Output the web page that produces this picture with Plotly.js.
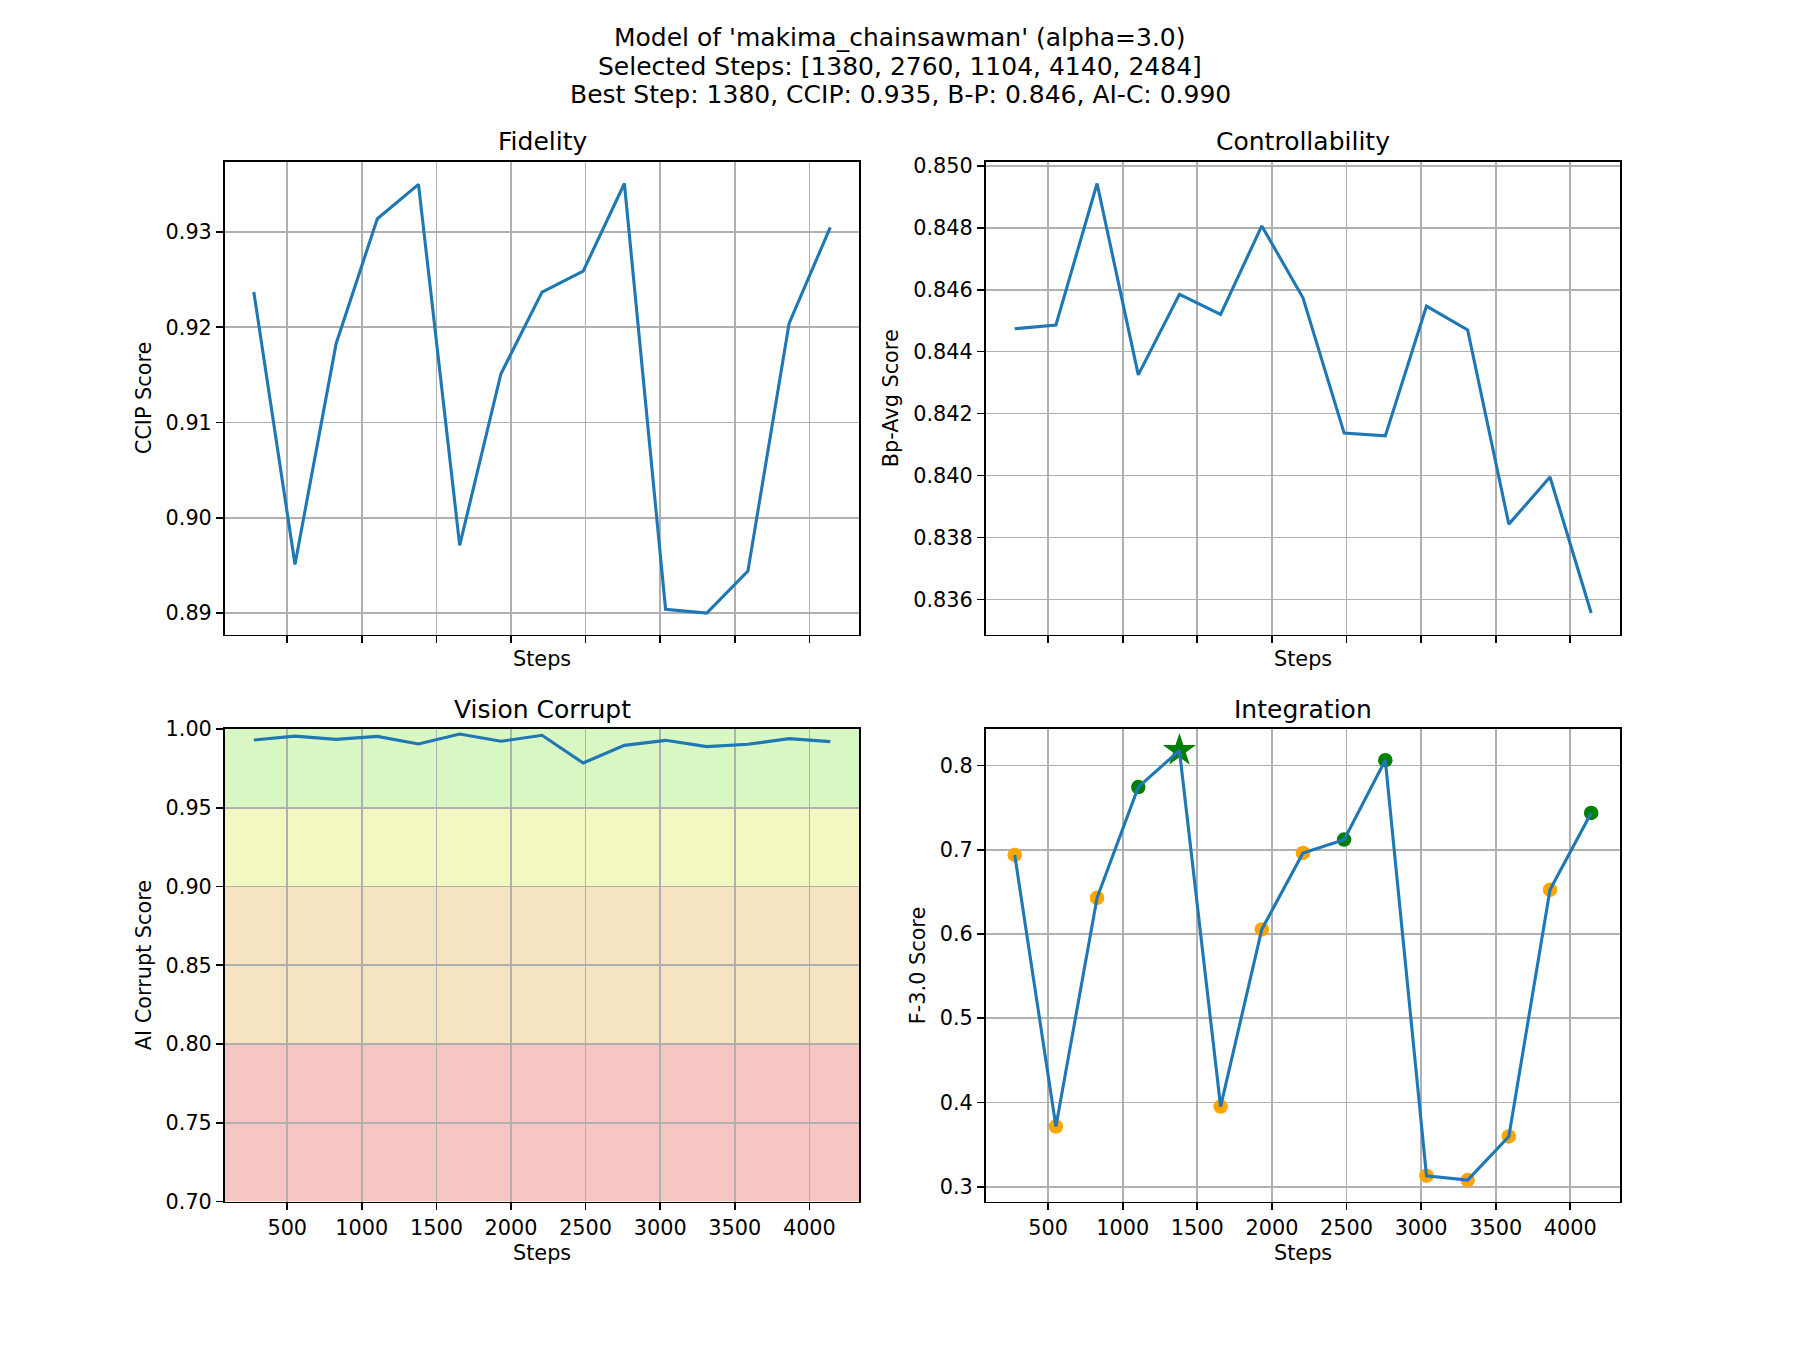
<!DOCTYPE html>
<html>
<head>
<meta charset="utf-8">
<script src="https://cdn.plot.ly/plotly-3.0.1.min.js"></script>
<style>html,body{margin:0;padding:0;background:#fff;}#chart{width:1800px;height:1350px;}</style>
</head>
<body>
<div id="chart"></div>
<script>
// ---- data ----
const steps = [276, 552, 828, 1104, 1380, 1656, 1932, 2208, 2484, 2760, 3036, 3312, 3588, 3864, 4140];
const ccip = [0.9237, 0.8951, 0.9183, 0.9314, 0.9350, 0.8971, 0.9151, 0.9237, 0.9259, 0.9351, 0.8904, 0.8900, 0.8944, 0.9204, 0.9305];
const bpAvg = [0.84474, 0.84486, 0.84943, 0.84325, 0.84585, 0.84520, 0.84806, 0.84574, 0.84137, 0.84128, 0.84547, 0.84470, 0.83843, 0.83995, 0.83556];
const aiCorrupt = [0.9930, 0.9955, 0.9934, 0.9953, 0.9905, 0.9968, 0.9922, 0.9960, 0.9784, 0.9896, 0.9928, 0.9888, 0.9903, 0.9939, 0.9920];
const f3Score = [0.6938, 0.3714, 0.6429, 0.7743, 0.8178, 0.3951, 0.6054, 0.6962, 0.7120, 0.8063, 0.3130, 0.3079, 0.3596, 0.6524, 0.7436];
const selectedSteps = [1380, 2760, 1104, 4140, 2484];
const bestStep = 1380;
const stepTicks = [500, 1000, 1500, 2000, 2500, 3000, 3500, 4000];
const bandEdges = [0.70, 0.80, 0.90, 0.95, 1.00];
const bandColors = ['#f6c6c2', '#f6e3c2', '#f3f7c1', '#d9f7c2'];
const titleLines = [
  "Model of 'makima_chainsawman' (alpha=3.0)",
  "Selected Steps: [1380, 2760, 1104, 4140, 2484]",
  "Best Step: 1380, CCIP: 0.935, B-P: 0.846, AI-C: 0.990"
];
const panelTitles = ['Fidelity', 'Controllability', 'Vision Corrupt', 'Integration'];
const yTitles = ['CCIP Score', 'Bp-Avg Score', 'AI Corrupt Score', 'F-3.0 Score'];

// ---- helpers ----
const W = 1800, H = 1350;
const FONT = 'DejaVu Sans';
const BLUE = '#1f77b4';
function padRange(arr) {
  const mn = Math.min(...arr), mx = Math.max(...arr);
  const p = 0.05 * (mx - mn);
  return [mn - p, mx + p];
}
const xRange = padRange(steps);

const xL = [0.125, 0.125 + 0.775 / 2.2];
const xR = [0.9 - 0.775 / 2.2, 0.9];
const yT = [0.88 - 0.77 / 2.2, 0.88];
const yB = [0.11, 0.11 + 0.77 / 2.2];

function xAxis(domain, anchor, showLabels) {
  return {
    domain: domain, anchor: anchor, range: xRange,
    tickmode: 'array', tickvals: stepTicks, ticktext: stepTicks.map(String),
    showticklabels: showLabels,
    ticks: 'outside', ticklen: 7.3, tickwidth: 1.67, tickcolor: '#000',
    showline: true, mirror: true, linecolor: '#000', linewidth: 1.67,
    showgrid: true, gridcolor: '#b0b0b0', gridwidth: 1.67,
    zeroline: false,
    tickfont: {family: FONT, size: 20.8, color: '#000'}
  };
}
function yAxis(domain, anchor, range, dtick, fmt) {
  return {
    domain: domain, anchor: anchor, range: range,
    tickmode: 'linear', tick0: 0, dtick: dtick, tickformat: fmt,
    ticks: 'outside', ticklen: 7.3, tickwidth: 1.67, tickcolor: '#000',
    showline: true, mirror: true, linecolor: '#000', linewidth: 1.67,
    showgrid: true, gridcolor: '#b0b0b0', gridwidth: 1.67,
    zeroline: false,
    tickfont: {family: FONT, size: 20.8, color: '#000'}
  };
}

const circleIdx = steps.map((s, i) => i).filter(i => steps[i] !== bestStep);
const bestIdx = steps.indexOf(bestStep);

const traces = [
  {x: steps, y: ccip, xaxis: 'x', yaxis: 'y', mode: 'lines', line: {color: BLUE, width: 3.1}},
  {x: steps, y: bpAvg, xaxis: 'x2', yaxis: 'y2', mode: 'lines', line: {color: BLUE, width: 3.1}},
  {x: steps, y: aiCorrupt, xaxis: 'x3', yaxis: 'y3', mode: 'lines', line: {color: BLUE, width: 3.1}},
  {x: circleIdx.map(i => steps[i]), y: circleIdx.map(i => f3Score[i]), xaxis: 'x4', yaxis: 'y4', mode: 'markers',
   marker: {size: 14.5, color: circleIdx.map(i => selectedSteps.includes(steps[i]) ? 'green' : 'orange'), line: {width: 0}}},
  {x: [steps[bestIdx]], y: [f3Score[bestIdx]], xaxis: 'x4', yaxis: 'y4', mode: 'markers',
   marker: {size: 25, symbol: 'star', color: 'green', line: {width: 0}}},
  {x: steps, y: f3Score, xaxis: 'x4', yaxis: 'y4', mode: 'lines', line: {color: BLUE, width: 3.1}}
];

const shapes = [];
for (let i = 0; i < bandColors.length; i++) {
  shapes.push({type: 'rect', xref: 'x3 domain', yref: 'y3', x0: 0, x1: 1, y0: bandEdges[i], y1: bandEdges[i + 1],
    fillcolor: bandColors[i], line: {width: 0}, layer: 'below'});
}

const annotations = [];
const supY = [37.5, 66.5, 94.5];
titleLines.forEach((t, i) => annotations.push({text: t, xref: 'paper', yref: 'paper', x: 0.5, y: 1 - supY[i] / H,
  xanchor: 'center', yanchor: 'middle', showarrow: false, font: {family: FONT, size: 25, color: '#000'}}));

const colCenters = [(xL[0] + xL[1]) / 2, (xR[0] + xR[1]) / 2];
const rowTopsPx = [H * (1 - yT[1]), H * (1 - yB[1])];
const rowBotsPx = [H * (1 - yT[0]), H * (1 - yB[0])];
panelTitles.forEach((t, i) => {
  const col = i % 2, row = Math.floor(i / 2);
  annotations.push({text: t, xref: 'paper', yref: 'paper', x: colCenters[col], y: 1 - (rowTopsPx[row] - 20) / H,
    xanchor: 'center', yanchor: 'middle', showarrow: false, font: {family: FONT, size: 25, color: '#000'}});
  const stepOff = row === 0 ? 24.5 : 51;
  annotations.push({text: 'Steps', xref: 'paper', yref: 'paper', x: colCenters[col], y: 1 - (rowBotsPx[row] + stepOff) / H,
    xanchor: 'center', yanchor: 'middle', showarrow: false, font: {family: FONT, size: 20.8, color: '#000'}});
});
const yTitleOff = [81, 95, 81, 68];
const colLeftPx = [W * xL[0], W * xR[0]];
yTitles.forEach((t, i) => {
  const col = i % 2, row = Math.floor(i / 2);
  const cy = (rowTopsPx[row] + rowBotsPx[row]) / 2;
  annotations.push({text: t, xref: 'paper', yref: 'paper', x: (colLeftPx[col] - yTitleOff[i]) / W, y: 1 - cy / H,
    xanchor: 'center', yanchor: 'middle', textangle: -90, showarrow: false, font: {family: FONT, size: 20.8, color: '#000'}});
});

const layout = {
  width: W, height: H,
  margin: {l: 0, r: 0, t: 0, b: 0, pad: 0},
  paper_bgcolor: '#fff', plot_bgcolor: '#fff',
  showlegend: false,
  font: {family: FONT, size: 20.8, color: '#000'},
  xaxis: xAxis(xL, 'y', false),
  yaxis: yAxis(yT, 'x', padRange(ccip), 0.01, '.2f'),
  xaxis2: xAxis(xR, 'y2', false),
  yaxis2: yAxis(yT, 'x2', padRange(bpAvg), 0.002, '.3f'),
  xaxis3: xAxis(xL, 'y3', true),
  yaxis3: yAxis(yB, 'x3', [0.70, 1.00], 0.05, '.2f'),
  xaxis4: xAxis(xR, 'y4', true),
  yaxis4: yAxis(yB, 'x4', padRange(f3Score), 0.1, '.1f'),
  shapes: shapes,
  annotations: annotations
};

Plotly.newPlot('chart', traces, layout, {staticPlot: true});
</script>
</body>
</html>
